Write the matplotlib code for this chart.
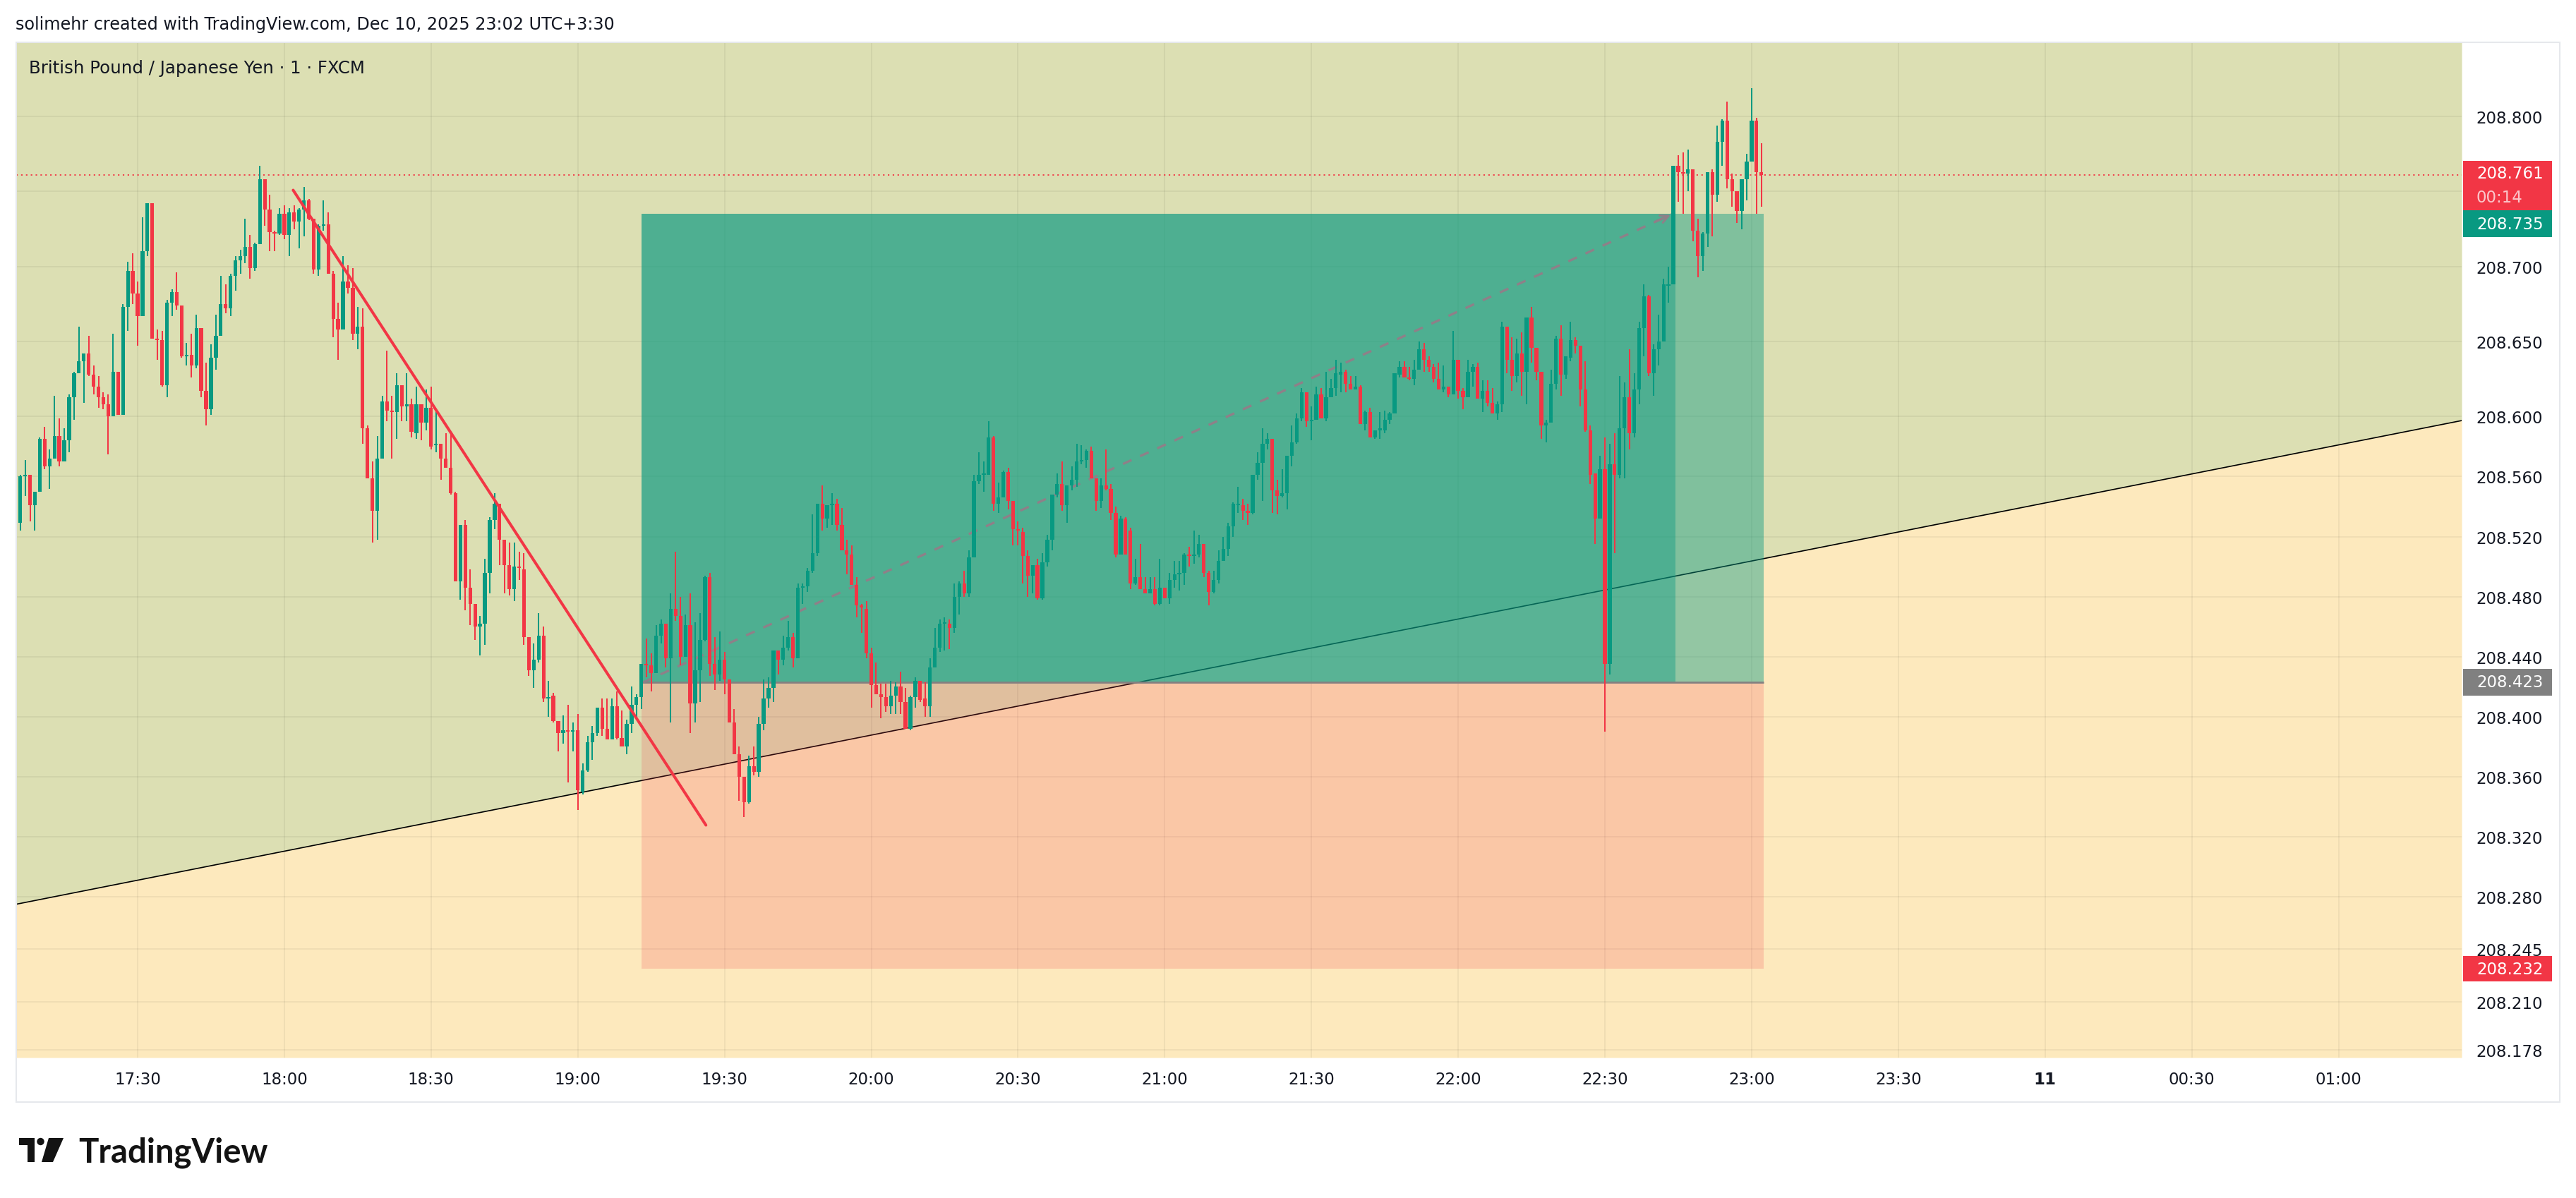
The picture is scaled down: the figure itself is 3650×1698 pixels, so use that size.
import numpy as np
import matplotlib
matplotlib.use("Agg")
import matplotlib.pyplot as plt
from matplotlib.patches import Rectangle, Polygon, Circle
from matplotlib import transforms

# ---------------- data (prices as thousandths above 208.000) ----------------
start_label = "17:05"          # first candle, 1-minute bars
start_minute = -25             # minutes relative to 17:30

opens = [
    512, 529, 560, 561, 541,
    550, 585, 567, 572, 587, 570, 584, 613, 629, 637,
    642, 628, 620, 613, 608, 600, 630, 601, 673, 697,
    682, 667, 710, 742, 652, 651, 621, 676, 683, 674,
    640, 641, 634, 659, 617, 605, 639, 654, 675, 672,
    694, 704, 707, 713, 699, 715, 758, 738, 723, 722,
    735, 721, 736, 730, 738, 744, 732, 698, 727, 728,
    695, 665, 658, 690, 686, 655, 660, 592, 559, 537,
    572, 610, 604, 603, 621, 607, 608, 589, 608, 596,
    606, 581, 582, 572, 566, 549, 490, 528, 486, 475,
    460, 462, 496, 531, 542, 518, 501, 485, 500, 498,
    453, 431, 438, 454, 412, 414, 397, 389, 391, 390,
    391, 350, 364, 383, 389, 406, 392, 385, 407, 386,
    380, 395, 408, 413, 435, 434, 429, 454, 462, 439,
    472, 467, 440, 461, 409, 431, 451, 493, 435, 428,
    438, 425, 396, 375, 360, 343, 367, 363, 395, 412,
    419, 444, 438, 446, 453, 439, 486, 487, 497, 509,
    542, 532, 541, 542, 528, 511, 508, 488, 474, 472,
    442, 421, 415, 413, 407, 414, 420, 410, 392, 413,
    424, 412, 407, 433, 446, 462, 462, 459, 480, 489,
    482, 506, 557, 561, 561, 586, 542, 546, 563, 544,
    525, 523, 507, 494, 501, 479, 503, 518, 548, 555,
    541, 554, 558, 570, 571, 577, 559, 544, 554, 552,
    536, 508, 532, 524, 489, 493, 485, 482, 485, 475,
    486, 479, 491, 495, 496, 508, 507, 508, 515, 496,
    483, 491, 504, 512, 527, 541, 541, 537, 536, 561,
    569, 582, 585, 551, 547, 549, 574, 583, 599, 616,
    597, 598, 615, 599, 613, 619, 628, 630, 622, 618,
    620, 595, 603, 586, 591, 591, 598, 602, 628, 633,
    626, 625, 631, 645, 638, 633, 625, 618, 620, 615,
    638, 617, 613, 630, 633, 612, 617, 609, 602, 608,
    660, 638, 627, 642, 630, 666, 646, 630, 594, 596,
    622, 652, 628, 639, 651, 647, 618, 591, 562, 532,
    565, 435, 568, 561, 592, 613, 589, 618, 659, 680,
    629, 645, 650, 687, 688, 767, 763, 762, 765, 724,
    707, 722, 763, 748, 783, 797, 758, 750, 737, 758,
    770, 797, 763,
]
highs = [
    530, 561, 571, 561, 550,
    586, 593, 578, 614, 599, 592, 615, 630, 660, 642,
    654, 634, 627, 616, 615, 655, 630, 675, 703, 709,
    690, 733, 742, 742, 658, 657, 678, 685, 696, 674,
    649, 655, 668, 659, 636, 648, 668, 694, 688, 695,
    707, 711, 732, 721, 716, 767, 758, 748, 724, 739,
    741, 739, 741, 739, 753, 745, 732, 728, 744, 736,
    697, 676, 707, 701, 699, 673, 672, 594, 570, 587,
    614, 644, 614, 629, 621, 629, 612, 620, 608, 618,
    620, 605, 582, 589, 589, 550, 528, 531, 498, 475,
    467, 505, 533, 549, 542, 518, 516, 516, 510, 509,
    453, 449, 469, 460, 424, 416, 397, 401, 408, 396,
    402, 369, 387, 394, 406, 412, 412, 412, 417, 404,
    398, 420, 415, 435, 452, 442, 461, 465, 462, 482,
    510, 480, 468, 482, 463, 469, 494, 496, 453, 457,
    443, 425, 405, 380, 360, 374, 380, 400, 425, 426,
    444, 444, 454, 464, 456, 489, 489, 499, 535, 542,
    554, 541, 549, 545, 539, 518, 514, 493, 475, 477,
    446, 436, 422, 422, 424, 423, 430, 419, 414, 426,
    424, 423, 439, 459, 465, 466, 465, 489, 490, 497,
    511, 561, 576, 570, 597, 587, 556, 564, 566, 544,
    530, 526, 511, 501, 505, 509, 521, 548, 562, 570,
    554, 567, 582, 581, 578, 580, 559, 559, 578, 555,
    540, 534, 533, 526, 505, 515, 493, 493, 493, 505,
    486, 496, 504, 504, 509, 513, 524, 521, 515, 497,
    497, 511, 520, 529, 543, 553, 545, 542, 561, 576,
    592, 589, 585, 558, 565, 574, 594, 602, 619, 616,
    607, 620, 619, 630, 625, 638, 636, 631, 627, 627,
    621, 604, 606, 591, 603, 604, 603, 629, 637, 637,
    633, 638, 650, 649, 640, 635, 636, 634, 620, 657,
    638, 619, 638, 635, 636, 624, 624, 619, 610, 663,
    660, 653, 652, 656, 666, 673, 646, 630, 598, 631,
    654, 661, 640, 663, 653, 647, 637, 594, 562, 574,
    586, 582, 589, 627, 623, 645, 629, 663, 688, 681,
    648, 668, 692, 700, 767, 774, 776, 778, 765, 732,
    723, 763, 765, 794, 798, 810, 762, 750, 758, 775,
    819, 799, 782,
]
lows = [
    508, 524, 547, 530, 524,
    550, 565, 552, 572, 567, 570, 576, 598, 629, 609,
    627, 615, 606, 605, 575, 600, 601, 601, 657, 675,
    647, 667, 707, 652, 638, 620, 613, 667, 671, 639,
    634, 626, 632, 613, 594, 601, 631, 654, 669, 667,
    684, 695, 702, 692, 697, 715, 727, 710, 710, 721,
    718, 707, 725, 712, 720, 731, 695, 694, 724, 695,
    653, 638, 658, 682, 651, 645, 582, 559, 516, 518,
    572, 597, 572, 585, 597, 597, 586, 585, 584, 591,
    578, 576, 558, 566, 548, 490, 478, 471, 461, 451,
    441, 448, 482, 525, 501, 482, 481, 477, 491, 448,
    427, 419, 436, 410, 400, 396, 377, 382, 356, 377,
    338, 348, 363, 371, 387, 387, 385, 385, 385, 380,
    375, 389, 400, 405, 426, 417, 429, 449, 433, 396,
    464, 434, 440, 389, 396, 410, 450, 427, 418, 424,
    415, 396, 375, 344, 333, 342, 361, 360, 391, 406,
    410, 428, 434, 444, 433, 439, 475, 483, 496, 507,
    524, 526, 528, 524, 511, 495, 488, 466, 456, 439,
    406, 415, 399, 403, 402, 402, 402, 392, 391, 406,
    410, 400, 400, 433, 443, 444, 445, 456, 468, 480,
    480, 506, 555, 550, 561, 537, 536, 546, 538, 514,
    514, 489, 480, 482, 478, 478, 500, 511, 546, 537,
    529, 551, 553, 568, 566, 559, 537, 539, 551, 531,
    506, 508, 508, 485, 488, 485, 482, 482, 474, 474,
    479, 475, 486, 484, 488, 500, 502, 506, 493, 474,
    482, 489, 504, 507, 520, 536, 531, 528, 535, 558,
    544, 578, 536, 535, 546, 538, 567, 582, 597, 593,
    584, 598, 599, 597, 613, 614, 616, 616, 618, 618,
    595, 591, 586, 585, 585, 589, 595, 602, 626, 626,
    624, 621, 631, 630, 630, 623, 618, 616, 613, 615,
    612, 605, 613, 620, 612, 603, 607, 602, 598, 603,
    629, 617, 623, 614, 608, 636, 624, 585, 583, 596,
    618, 614, 625, 637, 642, 607, 590, 555, 515, 532,
    390, 428, 509, 559, 559, 578, 586, 608, 640, 627,
    614, 634, 650, 676, 688, 743, 735, 750, 717, 693,
    697, 713, 720, 743, 767, 752, 740, 729, 725, 744,
    770, 735, 740,
]
closes = [
    528, 560, 561, 541, 550,
    585, 567, 572, 587, 570, 584, 613, 629, 637, 642,
    628, 620, 613, 608, 600, 630, 601, 673, 697, 682,
    667, 710, 742, 652, 651, 621, 676, 683, 674, 640,
    641, 634, 659, 617, 605, 639, 654, 675, 672, 694,
    704, 707, 713, 699, 715, 758, 738, 723, 722, 735,
    721, 736, 730, 738, 744, 732, 698, 727, 728, 695,
    665, 658, 690, 686, 655, 660, 592, 559, 537, 572,
    610, 604, 603, 621, 607, 608, 590, 608, 596, 606,
    580, 582, 572, 566, 549, 490, 528, 486, 475, 460,
    462, 496, 531, 542, 518, 501, 485, 500, 499, 453,
    431, 438, 454, 412, 413, 397, 389, 391, 390, 391,
    351, 364, 383, 389, 406, 392, 385, 407, 386, 380,
    395, 408, 413, 435, 434, 429, 454, 462, 439, 472,
    467, 440, 461, 409, 431, 451, 493, 435, 428, 438,
    425, 396, 375, 360, 343, 367, 363, 395, 412, 419,
    444, 438, 446, 453, 439, 486, 487, 497, 509, 542,
    532, 541, 542, 528, 511, 508, 488, 474, 473, 442,
    421, 415, 413, 407, 414, 420, 410, 392, 413, 424,
    411, 407, 433, 446, 462, 463, 459, 480, 489, 482,
    506, 557, 561, 562, 586, 542, 546, 563, 544, 525,
    524, 507, 494, 501, 479, 503, 518, 548, 555, 541,
    554, 558, 570, 571, 577, 559, 544, 554, 552, 536,
    508, 532, 508, 489, 493, 485, 482, 485, 475, 486,
    479, 491, 495, 496, 508, 507, 508, 515, 496, 483,
    491, 504, 512, 527, 542, 542, 537, 536, 561, 569,
    582, 585, 551, 547, 549, 574, 583, 599, 616, 597,
    598, 615, 599, 613, 619, 629, 630, 622, 618, 620,
    595, 603, 586, 591, 592, 598, 602, 629, 633, 626,
    625, 631, 645, 638, 633, 625, 618, 620, 615, 638,
    617, 613, 630, 633, 612, 617, 609, 602, 608, 660,
    638, 627, 642, 630, 666, 646, 630, 594, 596, 622,
    652, 628, 640, 651, 647, 618, 591, 561, 532, 565,
    435, 568, 561, 592, 613, 589, 618, 659, 680, 629,
    645, 650, 688, 688, 767, 763, 762, 765, 724, 707,
    722, 763, 748, 783, 797, 758, 750, 737, 758, 770,
    797, 763, 761,
]

# time axis (minutes relative to 17:30)
time_tick_pos = [0, 30, 60, 90, 120, 150, 180, 210, 240, 270, 300, 330, 360, 390, 420, 450]
time_tick_labels = ["17:30", "18:00", "18:30", "19:00", "19:30", "20:00", "20:30", "21:00",
                    "21:30", "22:00", "22:30", "23:00", "23:30", "11", "00:30", "01:00"]
bold_tick = "11"

# price axis
price_grid = [208.800, 208.750, 208.700, 208.650, 208.600, 208.560, 208.520, 208.480,
              208.440, 208.400, 208.360, 208.320, 208.280, 208.245, 208.210, 208.178]
price_tick_vals = [208.800, 208.700, 208.650, 208.600, 208.560, 208.520, 208.480, 208.440,
                   208.400, 208.360, 208.320, 208.280, 208.245, 208.210, 208.178]
price_tick_labels = ["208.800", "208.700", "208.650", "208.600", "208.560", "208.520", "208.480",
                     "208.440", "208.400", "208.360", "208.320", "208.280", "208.245", "208.210",
                     "208.178"]

# drawings
support_t = [96, 347]                 # black trend line (minutes), extends both ways
support_p = [208.3529, 208.5147]
resist_t = [31.8, 116.2]              # red trend line
resist_p = [208.7509, 208.3277]
last_price = 208.761
countdown = "00:14"
pos_entry, pos_target, pos_stop = 208.423, 208.735, 208.232
pos_t_start, pos_t_hit, pos_t_end = 103, 314.4, 332.5
path_t = [103.4, 313.8]
path_p = [208.423, 208.735]

header = "solimehr created with TradingView.com, Dec 10, 2025 23:02 UTC+3:30"
title = "British Pound / Japanese Yen \u00b7 1 \u00b7 FXCM"

# ---------------- styling ----------------
GREEN = "#089981"
RED = "#F23645"
TXT = "#131722"
OLIVE = "#dcdfb3"
CREAM = "#fde9bd"

W, H = 3650, 1699
fig = plt.figure(figsize=(W / 100, H / 100), dpi=100)
fig.patch.set_facecolor("white")

L_PX, R_PX, T_PX, B_PX = 23, 3488, 61, 1500
ax = fig.add_axes([L_PX / W, 1 - B_PX / H, (R_PX - L_PX) / W, (B_PX - T_PX) / H])
xmin, xmax = -24.82, 475.18
ymin, ymax = 208.1728, 208.8494
ax.set_xlim(xmin, xmax)
ax.set_ylim(ymin, ymax)
ppx = (ymax - ymin) / (B_PX - T_PX)   # price per pixel

# background split by the support line
slope = (support_p[1] - support_p[0]) / (support_t[1] - support_t[0])
xs = np.array([xmin, xmax])
line_y = support_p[0] + slope * (xs - support_t[0])
ax.fill_between(xs, line_y, ymax, color=OLIVE, lw=0, zorder=0)
ax.fill_between(xs, ymin, line_y, color=CREAM, lw=0, zorder=0)

# grid
ax.hlines(price_grid, xmin, xmax, colors=(0, 0, 0, 0.05), lw=1.4, zorder=0.5)
ax.vlines(time_tick_pos, ymin, ymax, colors=(0, 0, 0, 0.05), lw=1.4, zorder=0.5)

# support line (under the position box)
ax.axline((support_t[0], support_p[0]), (support_t[1], support_p[1]), color="black", lw=1.2, zorder=0.8)

# long position tool
ax.add_patch(Rectangle((pos_t_start, pos_stop), pos_t_end - pos_t_start, pos_entry - pos_stop,
                       facecolor=RED, alpha=0.19, lw=0, zorder=1))
ax.add_patch(Rectangle((pos_t_start, pos_entry), pos_t_end - pos_t_start, pos_target - pos_entry,
                       facecolor=GREEN, alpha=0.43, lw=0, zorder=1))
ax.add_patch(Rectangle((pos_t_start, pos_entry), pos_t_hit - pos_t_start, pos_target - pos_entry,
                       facecolor=GREEN, alpha=0.41, lw=0, zorder=1.1))
ax.hlines(pos_entry, pos_t_start, pos_t_end, colors="#858080", lw=2, zorder=1.2)
ax.plot(path_t, path_p, color="#8e8088", lw=2.4, ls=(0, (4, 4)), zorder=1.3)
ax.annotate("", xy=(path_t[1], path_p[1]), xytext=(path_t[1] - 4, path_p[1] - 0.0059),
            arrowprops=dict(arrowstyle="->", color="#8e8088", lw=2.2, mutation_scale=20), zorder=1.3)

# last price dotted line
ax.axhline(last_price, color=RED, lw=1.3, ls=(0, (1.2, 2.6)), zorder=2)

# candles
o = 208 + np.array(opens) / 1000.0
h = 208 + np.array(highs) / 1000.0
l = 208 + np.array(lows) / 1000.0
c = 208 + np.array(closes) / 1000.0
t = start_minute + np.arange(len(o))
up = c >= o
cols = np.where(up, GREEN, RED)
ax.vlines(t, l, h, colors=cols, lw=1.45, zorder=4)
min_h = 0.0008
body_h = np.maximum(np.abs(c - o), min_h)
body_b = np.where(np.abs(c - o) < min_h, (o + c) / 2 - min_h / 2, np.minimum(o, c))
ax.bar(t, body_h, bottom=body_b, width=0.76, color=cols, lw=0, zorder=4)

# red resistance trend line
ax.plot(resist_t, resist_p, color=RED, lw=2.9, solid_capstyle="round", zorder=5)

# axes styling
for s in ax.spines.values():
    s.set_visible(False)
ax.yaxis.tick_right()
ax.set_yticks(price_tick_vals)
ax.set_yticklabels(price_tick_labels)
ax.set_xticks(time_tick_pos)
ax.set_xticklabels(time_tick_labels)
ax.tick_params(axis="y", length=0, pad=15, labelsize=16.5, labelcolor=TXT)
ax.tick_params(axis="x", length=0, pad=14, labelsize=16.5, labelcolor=TXT)
for lab in ax.get_xticklabels():
    if lab.get_text() == bold_tick:
        lab.set_fontweight("bold")

# price tags on the axis
tr = transforms.blended_transform_factory(ax.transAxes, ax.transData)
tag_x0 = (3490 - L_PX) / (R_PX - L_PX)
tag_w = 126 / (R_PX - L_PX)
txt_x = (3509 - L_PX) / (R_PX - L_PX)

def tag(top, bottom, color):
    ax.add_patch(Rectangle((tag_x0, bottom), tag_w, top - bottom, transform=tr,
                           facecolor=color, lw=0, clip_on=False, zorder=6))

red_top = last_price + 20 * ppx
red_bot = last_price - 50 * ppx
tag(red_top, red_bot, RED)
ax.text(txt_x, last_price + 3 * ppx, f"{last_price:.3f}", transform=tr, color="white",
        fontsize=16.5, va="center", ha="left", clip_on=False, zorder=7)
ax.text(txt_x, last_price - 31 * ppx, countdown, transform=tr, color=(1, 1, 1, 0.72),
        fontsize=16.5, va="center", ha="left", clip_on=False, zorder=7)
teal_top = red_bot
teal_bot = red_bot - 38 * ppx
tag(teal_top, teal_bot, GREEN)
ax.text(txt_x, (teal_top + teal_bot) / 2, f"{pos_target:.3f}", transform=tr, color="white",
        fontsize=16.5, va="center", ha="left", clip_on=False, zorder=7)
tag(pos_entry + 19 * ppx, pos_entry - 19 * ppx, "#808080")
ax.text(txt_x, pos_entry, f"{pos_entry:.3f}", transform=tr, color="white",
        fontsize=16.5, va="center", ha="left", clip_on=False, zorder=7)
tag(pos_stop + 18 * ppx, pos_stop - 18 * ppx, RED)
ax.text(txt_x, pos_stop, f"{pos_stop:.3f}", transform=tr, color="white",
        fontsize=16.5, va="center", ha="left", clip_on=False, zorder=7)

# ---------------- overlay (pixel coordinates) ----------------
ov = fig.add_axes([0, 0, 1, 1], zorder=10)
ov.set_xlim(0, W)
ov.set_ylim(H, 0)
ov.axis("off")
ov.patch.set_alpha(0)

# chart frame
ov.add_patch(Rectangle((L_PX, T_PX), 3627 - L_PX, 1563 - T_PX, fill=False, edgecolor="#e6e8ec", lw=1.5))

ov.text(22, 35, header, fontsize=17.2, color=TXT, va="center", ha="left")
ov.text(41, 97, title, fontsize=17.6, color=TXT, va="center", ha="left")

# TradingView logo
ov.add_patch(Polygon([(27, 1614), (49, 1614), (49, 1648), (39, 1648), (39, 1624), (27, 1624)],
                     closed=True, facecolor="#131313", lw=0))
ov.add_patch(Circle((57.5, 1619), 5.2, facecolor="#131313", lw=0))
ov.add_patch(Polygon([(69, 1614), (90, 1614), (75, 1648), (59, 1648)],
                     closed=True, facecolor="#131313", lw=0))
ov.text(111, 1648, "TradingView", fontsize=34, fontweight="bold", family="Lato",
        color="#131313", va="baseline", ha="left")

fig.savefig("out.png", dpi=100, facecolor="white")
